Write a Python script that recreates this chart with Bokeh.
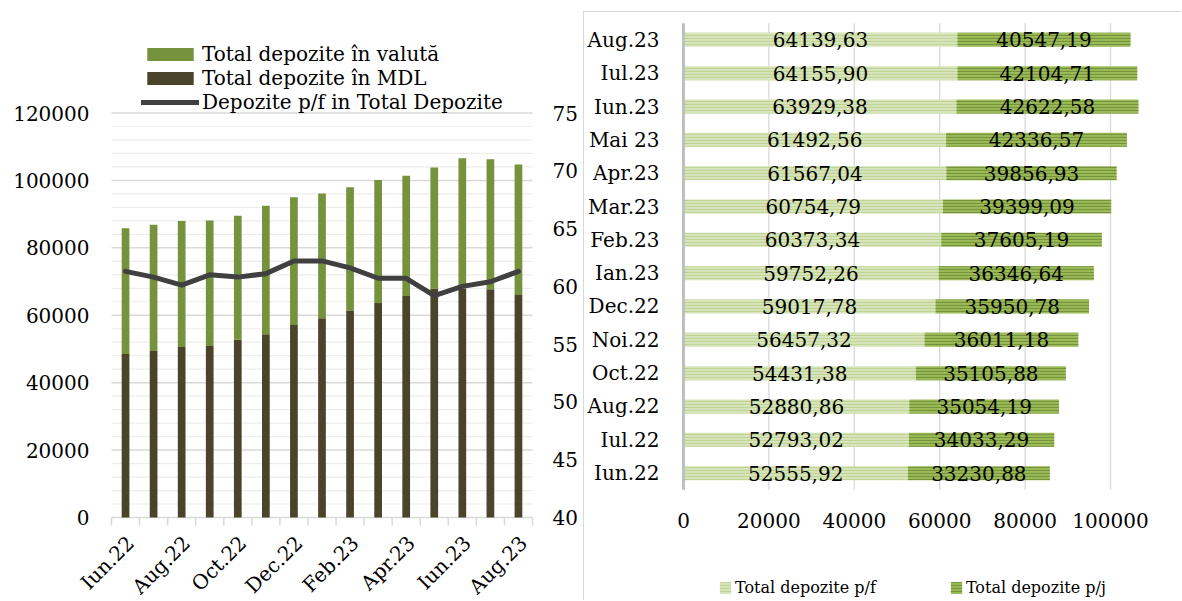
import math
from bokeh.plotting import figure
from bokeh.models import ColumnDataSource, Range1d, Legend, LegendItem
from bokeh.layouts import row
from bokeh.core.properties import value
from bokeh.embed import file_html
from bokeh.resources import INLINE

FONT = "DejaVu Serif"

# ---------------- data: left chart ----------------
months = ["Iun.22", "Iul.22", "Aug.22", "Sep.22", "Oct.22", "Noi.22", "Dec.22", "Ian.23",
          "Feb.23", "Mar.23", "Apr.23", "Mai.23", "Iun.23", "Iul.23", "Aug.23"]
mdl = [48500, 49400, 50600, 50900, 52700, 54400, 57100, 59100, 61300, 63600, 65700,
       67900, 67900, 67700, 66000]
valuta = [37290, 37430, 37340, 37200, 36840, 38070, 37870, 37000, 36680, 36550, 35720,
          35930, 38650, 38560, 38690]
share_pf = [61.3, 60.8, 60.1, 61.0, 60.8, 61.1, 62.2, 62.2, 61.6, 60.7, 60.7, 59.2,
            60.0, 60.4, 61.3]
left_ticks = [0, 20000, 40000, 60000, 80000, 100000, 120000]
right_ticks = [40, 45, 50, 55, 60, 65, 70, 75]

# ---------------- data: right chart ----------------
cats = ["Iun.22", "Iul.22", "Aug.22", "Oct.22", "Noi.22", "Dec.22", "Ian.23", "Feb.23",
        "Mar.23", "Apr.23", "Mai 23", "Iun.23", "Iul.23", "Aug.23"]
pf = [52555.92, 52793.02, 52880.86, 54431.38, 56457.32, 59017.78, 59752.26, 60373.34,
      60754.79, 61567.04, 61492.56, 63929.38, 64155.90, 64139.63]
pj = [33230.88, 34033.29, 35054.19, 35105.88, 36011.18, 35950.78, 36346.64, 37605.19,
      39399.09, 39856.93, 42336.57, 42622.58, 42104.71, 40547.19]
x_ticks = [0, 20000, 40000, 60000, 80000, 100000]

GREEN = "#76923C"
DARK = "#4A452A"
LINE = "#404040"
GRID = "#D9D9D9"
GRID_MINOR = "#EDEDED"
AXIS2 = "#BFBFBF"

# =============== LEFT FIGURE (frame = whole figure, axes drawn as glyphs) ===============
n = len(months)
W1, H1 = 583, 601
PX_L, PX_R = 111, 532          # pixel columns of the plot area
PX_Y0, PX_YMAX = 517, 112.5    # pixel rows of 0 and of the top value
Y_MAX, P_MIN, P_MAX = 120000, 40, 75
ppx = (PX_R - PX_L) / n
ppy = (PX_Y0 - PX_YMAX) / Y_MAX
ppp = (PX_Y0 - PX_YMAX) / (P_MAX - P_MIN)

p1 = figure(width=W1, height=H1,
            x_range=Range1d(-PX_L / ppx, n + (W1 - PX_R) / ppx),
            y_range=Range1d(-(H1 - PX_Y0) / ppy, Y_MAX + PX_YMAX / ppy),
            x_axis_location=None, y_axis_location=None,
            output_backend="svg", toolbar_location=None,
            min_border_left=0, min_border_right=0, min_border_top=0, min_border_bottom=0)
p1.extra_y_ranges = {"pct": Range1d(P_MIN - (H1 - PX_Y0) / ppp, P_MAX + PX_YMAX / ppp)}
p1.outline_line_color = None
p1.grid.visible = False

minor = [v for v in range(0, Y_MAX + 1, 4000) if v % 20000 != 0]
p1.segment(x0=0, x1=n, y0="y", y1="y", source=ColumnDataSource(dict(y=minor)),
           line_color=GRID_MINOR, line_width=1.2, level="underlay")
p1.segment(x0=0, x1=n, y0="y", y1="y", source=ColumnDataSource(dict(y=left_ticks)),
           line_color=GRID, line_width=1.5, level="underlay")
# category boundary ticks under the x axis
p1.ray(x="x", y=0, length=8, length_units="screen", angle=-math.pi / 2,
       source=ColumnDataSource(dict(x=list(range(n + 1)))), line_color=GRID,
       line_width=1.5)

src1 = ColumnDataSource(dict(x=[i + 0.5 for i in range(n)], mdl=mdl, valuta=valuta,
                             share=share_pf))
r_stack = p1.vbar_stack(["mdl", "valuta"], x="x", width=0.275, source=src1,
                        color=[DARK, GREEN], line_color=None)
r_line = p1.line(x="x", y="share", source=src1, y_range_name="pct", line_color=LINE,
                 line_width=5, line_join="round", line_cap="round")

# tick labels
p1.text(x=0, y="y", text="t", x_offset=-22, text_align="right", text_baseline="middle",
        source=ColumnDataSource(dict(y=left_ticks, t=[str(v) for v in left_ticks])),
        text_font=value(FONT), text_font_size="20px", text_color="#000000")
p1.text(x=n, y="y", text="t", x_offset=20, text_align="left", text_baseline="middle",
        y_range_name="pct",
        source=ColumnDataSource(dict(y=right_ticks, t=[str(v) for v in right_ticks])),
        text_font=value(FONT), text_font_size="20px", text_color="#000000")
lab_idx = list(range(0, n, 2))
p1.text(x="x", y=0, text="t", angle=math.pi / 4, x_offset=5, y_offset=22,
        text_align="right", text_baseline="middle",
        source=ColumnDataSource(dict(x=[i + 0.5 for i in lab_idx],
                                     t=[months[i] for i in lab_idx])),
        text_font=value(FONT), text_font_size="20px", text_color="#000000")

leg1 = Legend(items=[LegendItem(label="Total depozite în valută", renderers=[r_stack[1]]),
                     LegendItem(label="Total depozite în MDL", renderers=[r_stack[0]]),
                     LegendItem(label="Depozite p/f in Total Depozite", renderers=[r_line])],
              location=(141, H1 - 114), orientation="vertical",
              label_text_font=FONT, label_text_font_size="20px",
              label_text_color="#000000",
              glyph_width=58, glyph_height=16, label_standoff=3, spacing=0,
              padding=0, margin=0, border_line_color=None, background_fill_alpha=0)
p1.add_layout(leg1, "center")

# =============== RIGHT FIGURE (frame = whole figure, axes drawn as glyphs) ===============
k = len(cats)
W2, H2 = 598, 589                # inside the 1px border; figure starts at page (584, 12)
QX0 = 99                         # pixel column of value 0 inside the figure
QY_TOP, QY_BOT = 10.7, 477.3     # pixel rows of the category band edges
x_px = 0.00427                   # pixels per unit on the value axis
row_px = (QY_BOT - QY_TOP) / k

ypos = list(range(k))
p2 = figure(width=W2, height=H2,
            x_range=Range1d(-QX0 / x_px, (W2 - QX0) / x_px),
            y_range=Range1d(-0.5 - (H2 - QY_BOT) / row_px, k - 0.5 + QY_TOP / row_px),
            x_axis_location=None, y_axis_location=None,
            output_backend="svg", toolbar_location=None,
            min_border_left=0, min_border_right=0, min_border_top=0, min_border_bottom=0)
p2.margin = (11, 0, 0, 0)
p2.styles = {"border-top": "1px solid #D9D9D9", "border-left": "1px solid #D9D9D9"}
p2.outline_line_color = None
p2.grid.visible = False

p2.segment(x0="x", x1="x", y0=-0.5, y1=k - 0.5,
           source=ColumnDataSource(dict(x=x_ticks[1:])), line_color=GRID,
           line_width=1.3, level="underlay")

src2 = ColumnDataSource(dict(
    y=ypos, pf=pf, pj=pj,
    pf_mid=[a / 2 for a in pf],
    pj_mid=[a + b / 2 for a, b in zip(pf, pj)],
    pf_lbl=[f"{a:.2f}".replace(".", ",") for a in pf],
    pj_lbl=[f"{b:.2f}".replace(".", ",") for b in pj],
    cat=cats,
))
bars = p2.hbar_stack(["pf", "pj"], y="y", height=0.42, source=src2,
                     fill_color=["#D8E4BC", "#9BBB59"], line_color=None,
                     hatch_pattern="horizontal_line",
                     hatch_color=["#C0D595", "#77933C"], hatch_scale=3,
                     hatch_weight=1.2)
# category axis line
p2.segment(x0=0, x1=0, y0=-0.5, y1=k - 0.5, line_color=AXIS2, line_width=3)

p2.text(x="pf_mid", y="y", text="pf_lbl", source=src2, text_align="center",
        text_baseline="middle", text_font=value(FONT), text_font_size="20px",
        text_color="#000000")
p2.text(x="pj_mid", y="y", text="pj_lbl", source=src2, text_align="center",
        text_baseline="middle", text_font=value(FONT), text_font_size="20px",
        text_color="#000000")
p2.text(x=0, y="y", text="cat", source=src2, x_offset=-24, text_align="right",
        text_baseline="middle", text_font=value(FONT), text_font_size="20px",
        text_color="#000000")
p2.text(x="x", y=-0.5, text="t", y_offset=31, text_align="center",
        text_baseline="middle",
        source=ColumnDataSource(dict(x=x_ticks, t=[str(v) for v in x_ticks])),
        text_font=value(FONT), text_font_size="20px", text_color="#000000")

leg2 = Legend(items=[LegendItem(label="Total depozite p/f", renderers=[bars[0]]),
                     LegendItem(label="Total depozite p/j", renderers=[bars[1]])],
              location=(QX0 + 35, 4), orientation="horizontal",
              label_text_font=FONT, label_text_font_size="16px",
              label_text_color="#000000",
              glyph_width=14, glyph_height=15, label_standoff=3, spacing=73,
              padding=0, margin=0, border_line_color=None, background_fill_alpha=0)
p2.add_layout(leg2, "center")

layout = row(p1, p2, spacing=0)
open("out.html", "w").write(file_html(layout, INLINE))
